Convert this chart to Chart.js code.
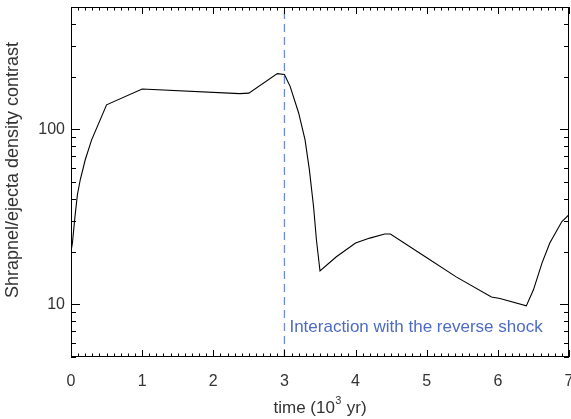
<!DOCTYPE html>
<html>
<head>
<meta charset="utf-8">
<script src="https://cdn.jsdelivr.net/npm/chart.js@4"></script>
<style>
  html, body { margin: 0; padding: 0; background: #fff; }
  #wrap { width: 571px; height: 419px; }
</style>
</head>
<body>
<div id="wrap"><canvas id="c" width="571" height="419"></canvas></div>
<script>
// values
const times    = [0, 0.02, 0.056, 0.09, 0.13, 0.2, 0.29, 0.5, 1.0, 2.37, 2.5, 2.9, 3.0, 3.08, 3.2, 3.29, 3.35, 3.41, 3.45, 3.5,
                  3.73, 4.0, 4.2, 4.41, 4.49, 4.98, 5.42, 5.91, 6.03, 6.4, 6.5, 6.62, 6.73, 6.9, 7.0];
const contrast = [20, 22.4, 31.8, 42.3, 51.5, 67, 87, 138, 170, 160, 161, 208, 206, 176, 124, 87, 59, 36, 23.3, 15.5,
                  18.7, 22.4, 23.9, 25.2, 25.2, 18.7, 14.3, 11.0, 10.8, 9.8, 12.1, 17.2, 22.4, 29.7, 32.5];
const shockTime = 3;
const shockLabel = 'Interaction with the reverse shock';
const xTicks = [0, 1, 2, 3, 4, 5, 6, 7];
const yTicks = [10, 100];
const yRange = [5, 500];
const xTitleParts = ['time (10', '3', ' yr)'];   // base, superscript, rest
const yTitle = 'Shrapnel/ejecta density contrast';

const FONT = '"Liberation Sans", Arial, Helvetica, sans-serif';
const TEXT = '#333';
const BLUE = '#4d6bc6';

// IDL-style frame: box, inward ticks on all four sides, titles, annotation
const framePlugin = {
  id: 'frame',
  afterDraw(chart) {
    const { ctx, chartArea: a, scales: { x, y } } = chart;
    ctx.save();
    ctx.strokeStyle = '#000';
    ctx.lineWidth = 1;
    ctx.strokeRect(a.left + 0.5, a.top + 0.5, a.right - a.left - 1, a.bottom - a.top - 1);

    ctx.beginPath();
    for (let i = 0; i <= 70; i++) {
      const v = i / 10;
      const px = Math.round(x.getPixelForValue(v)) + 0.5;
      const len = i % 10 === 0 ? 7 : 3.5;
      ctx.moveTo(px, a.bottom); ctx.lineTo(px, a.bottom - len);
      ctx.moveTo(px, a.top);    ctx.lineTo(px, a.top + len);
    }
    for (let d = 1; d <= 100; d *= 10) {
      for (let m = 1; m <= 9; m++) {
        const v = m * d;
        if (v < yRange[0] || v > yRange[1]) continue;
        const py = Math.round(y.getPixelForValue(v)) + 0.5;
        const len = m === 1 ? 9 : 5;
        ctx.moveTo(a.left, py);  ctx.lineTo(a.left + len, py);
        ctx.moveTo(a.right, py); ctx.lineTo(a.right - len, py);
      }
    }
    ctx.stroke();

    // annotation next to the dashed line
    ctx.fillStyle = BLUE;
    ctx.font = '17px ' + FONT;
    ctx.textBaseline = 'middle';
    ctx.textAlign = 'left';
    ctx.fillText(shockLabel, x.getPixelForValue(shockTime) + 5, y.getPixelForValue(7.4));

    // x title with superscript
    ctx.fillStyle = TEXT;
    const big = '17px ' + FONT, small = '11px ' + FONT;
    ctx.font = big;
    const w0 = ctx.measureText(xTitleParts[0]).width;
    const w2 = ctx.measureText(xTitleParts[2]).width;
    ctx.font = small;
    const w1 = ctx.measureText(xTitleParts[1]).width + 1;
    let tx = (a.left + a.right) / 2 - (w0 + w1 + w2) / 2;
    const ty = 408;
    ctx.font = big;
    ctx.fillText(xTitleParts[0], tx, ty);
    ctx.font = small;
    ctx.fillText(xTitleParts[1], tx + w0 + 0.5, ty - 7);
    ctx.font = big;
    ctx.fillText(xTitleParts[2], tx + w0 + w1, ty);

    // y title
    ctx.textAlign = 'center';
    ctx.font = '18px ' + FONT;
    ctx.translate(13, 170);
    ctx.rotate(-Math.PI / 2);
    ctx.fillText(yTitle, 0, 0);
    ctx.restore();
  }
};

new Chart(document.getElementById('c'), {
  type: 'line',
  data: {
    datasets: [
      {
        data: times.map((t, i) => ({ x: t, y: contrast[i] })),
        borderColor: '#000',
        borderWidth: 1.1,
        pointRadius: 0,
        tension: 0,
      },
      {
        data: [{ x: shockTime, y: yRange[0] }, { x: shockTime, y: yRange[1] }],
        borderColor: '#6f8bd4',
        borderWidth: 1.3,
        borderDash: [8, 5],
        pointRadius: 0,
      },
    ],
  },
  options: {
    responsive: false,
    animation: false,
    events: [],
    layout: { padding: { top: 7, right: 2, left: 0, bottom: 0 } },
    plugins: { legend: { display: false }, tooltip: { enabled: false } },
    scales: {
      x: {
        type: 'linear',
        min: 0, max: 7,
        afterBuildTicks: s => { s.ticks = xTicks.map(v => ({ value: v })); },
        afterFit: s => { s.height = 62; s.paddingLeft = 0; s.paddingRight = 0; },
        grid: { drawOnChartArea: false, drawTicks: false },
        border: { display: false },
        ticks: { color: TEXT, padding: 15, maxRotation: 0, font: { family: FONT, size: 16 } },
      },
      y: {
        type: 'logarithmic',
        min: yRange[0], max: yRange[1],
        afterBuildTicks: s => { s.ticks = yTicks.map(v => ({ value: v })); },
        afterFit: s => { s.width = 71; s.paddingTop = 0; s.paddingBottom = 0; },
        grid: { drawOnChartArea: false, drawTicks: false },
        border: { display: false },
        ticks: { color: TEXT, padding: 6, font: { family: FONT, size: 16 }, callback: v => String(v) },
      },
    },
  },
  plugins: [framePlugin],
});
</script>
</body>
</html>
